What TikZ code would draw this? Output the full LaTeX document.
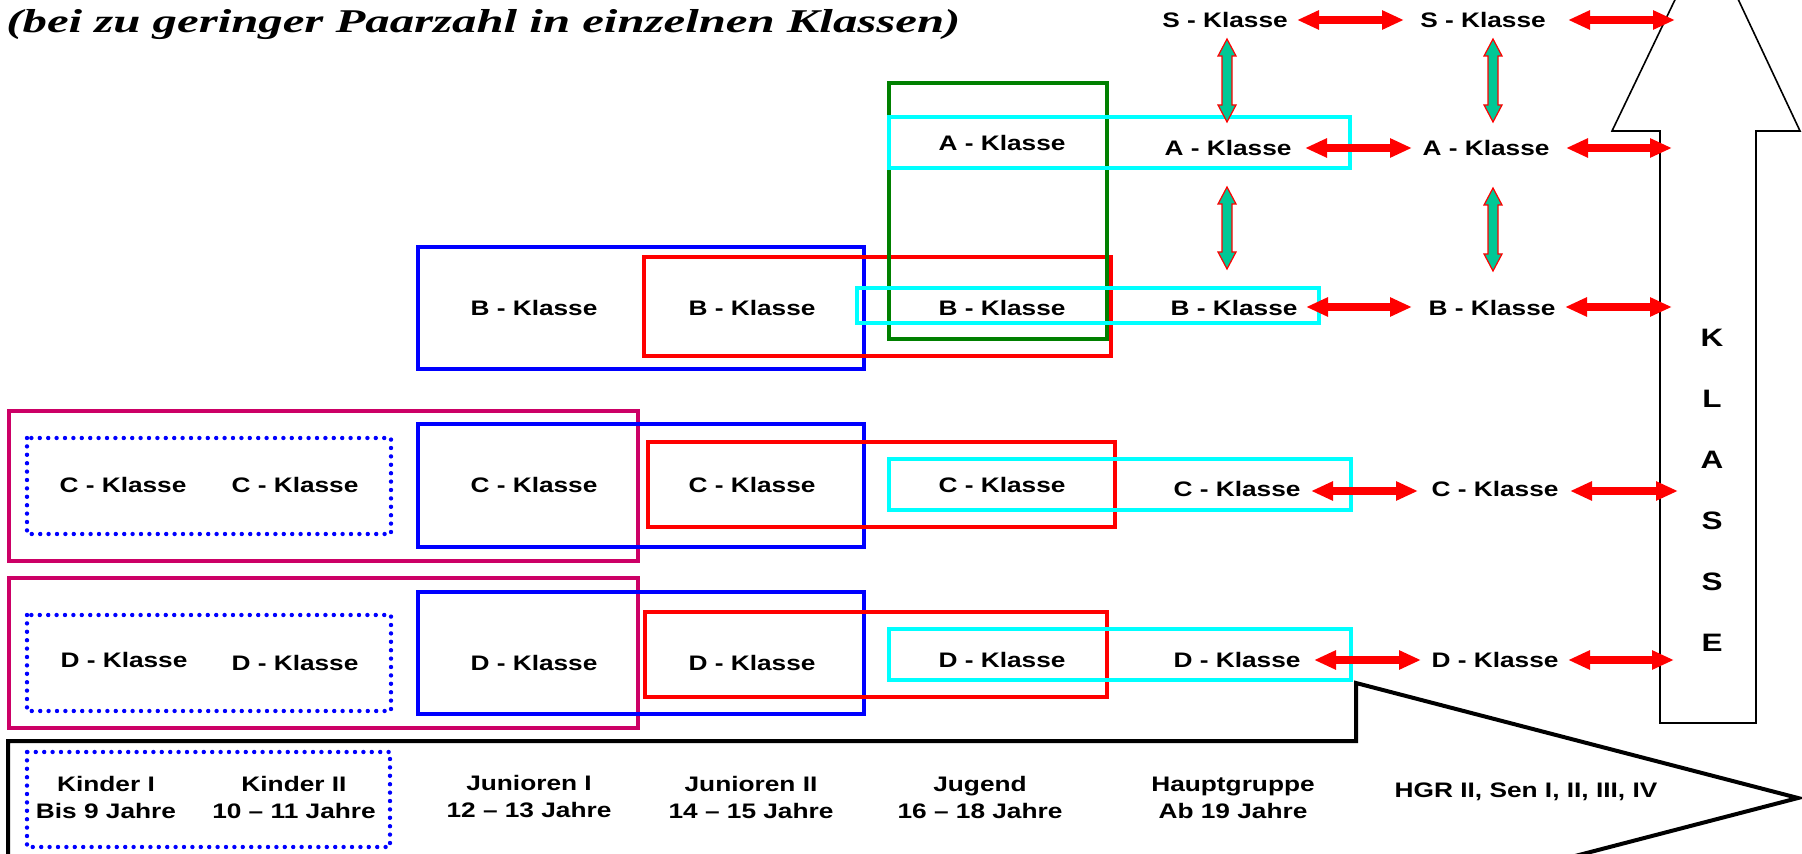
\documentclass[tikz,border=0pt]{standalone}
\usepackage{fontspec}
\usepackage{graphicx}
\usetikzlibrary{arrows.meta,calc}
\newfontfamily\lab[FakeStretch=1.25,Ligatures=TeX]{Liberation Sans}
\newfontfamily\ttlfont{Liberation Serif}
\newcommand{\lblfont}{\lab\bfseries\fontsize{10.5}{13.5}\selectfont}
\newcommand{\bigfont}{\lab\bfseries\fontsize{12.6}{30.5}\selectfont}
\definecolor{mag}{RGB}{204,0,102}
\definecolor{tealc}{RGB}{0,200,150}
\definecolor{dgreen}{RGB}{0,128,0}
\definecolor{cyanc}{RGB}{0,255,255}
\newcommand{\tealarrow}[3]{%
  \filldraw[tealarr] (#1,#2) -- ({#1+9},{#2+17}) -- ({#1+5},{#2+17}) -- ({#1+5},{#3-17})
    -- ({#1+9},{#3-17}) -- (#1,#3) -- ({#1-9},{#3-17}) -- ({#1-5},{#3-17})
    -- ({#1-5},{#2+17}) -- ({#1-9},{#2+17}) -- cycle;}
\begin{document}
\begin{tikzpicture}[x=0.5pt,y=-0.5pt,
  lbl/.style={font=\lblfont, inner sep=0pt, align=center, text=black},
  big/.style={font=\bigfont, inner sep=0pt, align=center},
  boxln/.style={line width=2pt},
  dotbox/.style={draw=blue, line width=2.2pt, dash pattern=on 0pt off 4.2pt, line cap=round},
  redarr/.style={draw=red, line width=4pt, arrows={Triangle[length=11pt,width=9pt]-Triangle[length=11pt,width=9pt]}},
  tealarr/.style={fill=tealc, draw=red, line width=0.6pt, line join=miter},
  outline/.style={draw=black, line width=0.8pt, fill=white, line join=miter}]
\useasboundingbox (0,0) rectangle (1802,854);
\clip (0,0) rectangle (1802,854);
\fill[white] (0,0) rectangle (1802,854);

% KLASSE arrow
\draw[outline] (1660,723) -- (1660,131) -- (1612,131) -- (1707,-67) -- (1800,131) -- (1756,131) -- (1756,723) -- cycle;
\coordinate (klL) at (1660,0);
\node[big] (klasse) at (1712,490.5) {K\\L\\A\\S\\S\\E};

% bottom age arrow
\draw[line width=2pt, line join=miter] (8,880) -- (8,741) -- (1356,741) -- (1356,683) -- (1798,798) -- (1356,913);

% boxes
\draw[boxln, mag] (9,411) rectangle (638,561);
\draw[boxln, mag] (9,578) rectangle (638,728);
\draw[dotbox] (27,438) rectangle (391,534);
\draw[dotbox] (27,615) rectangle (391,711);
\draw[dotbox] (27,752) rectangle (390,847);
\draw[boxln, blue] (418,247) rectangle (864,369);
\draw[boxln, blue] (418,424) rectangle (864,547);
\draw[boxln, blue] (418,592) rectangle (864,714);
\draw[boxln, red] (644,257) rectangle (1111,356);
\draw[boxln, red] (648,442) rectangle (1115,527);
\draw[boxln, red] (645,612) rectangle (1107,697);
\draw[boxln, dgreen] (889,83) rectangle (1107,339);
\draw[boxln, cyanc] (889,117) rectangle (1350,168);
\draw[boxln, cyanc] (857,288) rectangle (1319,323);
\draw[boxln, cyanc] (889,459) rectangle (1351,510);
\draw[boxln, cyanc] (889,629) rectangle (1351,680);

% title
\node[anchor=base west, inner sep=0pt] (title) at (6,33)
  {\resizebox{477pt}{\height}{\ttlfont\bfseries\itshape\fontsize{16.6}{18}\selectfont (bei zu geringer Paarzahl in einzelnen Klassen)}};

% class labels
\node[lbl] (s1) at (1225,20) {S - Klasse};
\node[lbl] (s2) at (1483,20) {S - Klasse};
\node[lbl] (a0) at (1002,143) {A - Klasse};
\node[lbl] (a1) at (1228,148) {A - Klasse};
\node[lbl] (a2) at (1486,148) {A - Klasse};
\node[lbl] (b0) at (534,308) {B - Klasse};
\node[lbl] (b1) at (752,308) {B - Klasse};
\node[lbl] (b2) at (1002,308) {B - Klasse};
\node[lbl] (b3) at (1234,308) {B - Klasse};
\node[lbl] (b4) at (1492,308) {B - Klasse};
\node[lbl] (c0) at (123,485) {C - Klasse};
\node[lbl] (c1) at (295,485) {C - Klasse};
\node[lbl] (c2) at (534,485) {C - Klasse};
\node[lbl] (c3) at (752,485) {C - Klasse};
\node[lbl] (c4) at (1002,485) {C - Klasse};
\node[lbl] (c5) at (1237,489) {C - Klasse};
\node[lbl] (c6) at (1495,489) {C - Klasse};
\node[lbl] (d0) at (124,660) {D - Klasse};
\node[lbl] (d1) at (295,663) {D - Klasse};
\node[lbl] (d2) at (534,663) {D - Klasse};
\node[lbl] (d3) at (752,663) {D - Klasse};
\node[lbl] (d4) at (1002,660) {D - Klasse};
\node[lbl] (d5) at (1237,660) {D - Klasse};
\node[lbl] (d6) at (1495,660) {D - Klasse};

% age groups
\node[lbl] (g1) at (106,797) {Kinder I\\Bis 9 Jahre};
\node[lbl] (g2) at (294,797) {Kinder II\\10 – 11 Jahre};
\node[lbl] (g3) at (529,797) {Junioren I\\12 – 13 Jahre};
\node[lbl] (g4) at (751,797) {Junioren II\\14 – 15 Jahre};
\node[lbl] (g5) at (980,797) {Jugend\\16 – 18 Jahre};
\node[lbl] (g6) at (1233,798) {Hauptgruppe\\Ab 19 Jahre};
\node[lbl] (g7) at (1526,792) {HGR II, Sen I, II, III, IV};

% red horizontal arrows
\draw[redarr] ($(s1)+(72,0)$) -- ($(s2)+(-79,0)$);
\draw[redarr] ($(s2)+(85,0)$) -- ($(s2 -| klL)+(15,0)$);
\draw[redarr] ($(a1)+(77,0)$) -- ($(a2)+(-74,0)$);
\draw[redarr] ($(a2)+(80,0)$) -- ($(a2 -| klL)+(12,0)$);
\draw[redarr] ($(b3)+(72,-1)$) -- ($(b4)+(-80,-1)$);
\draw[redarr] ($(b4)+(73,-1)$) -- ($(b4 -| klL)+(12,-1)$);
\draw[redarr] ($(c5)+(74,2)$) -- ($(c6)+(-77,2)$);
\draw[redarr] ($(c6)+(75,2)$) -- ($(c6 -| klL)+(18,2)$);
\draw[redarr] ($(d5)+(77,0)$) -- ($(d6)+(-74,0)$);
\draw[redarr] ($(d6)+(73,0)$) -- ($(d6 -| klL)+(14,0)$);

% teal vertical arrows
\tealarrow{1227}{39}{122}
\tealarrow{1493}{39}{122}
\tealarrow{1227}{187}{269}
\tealarrow{1493}{188}{271}
\end{tikzpicture}
\end{document}
